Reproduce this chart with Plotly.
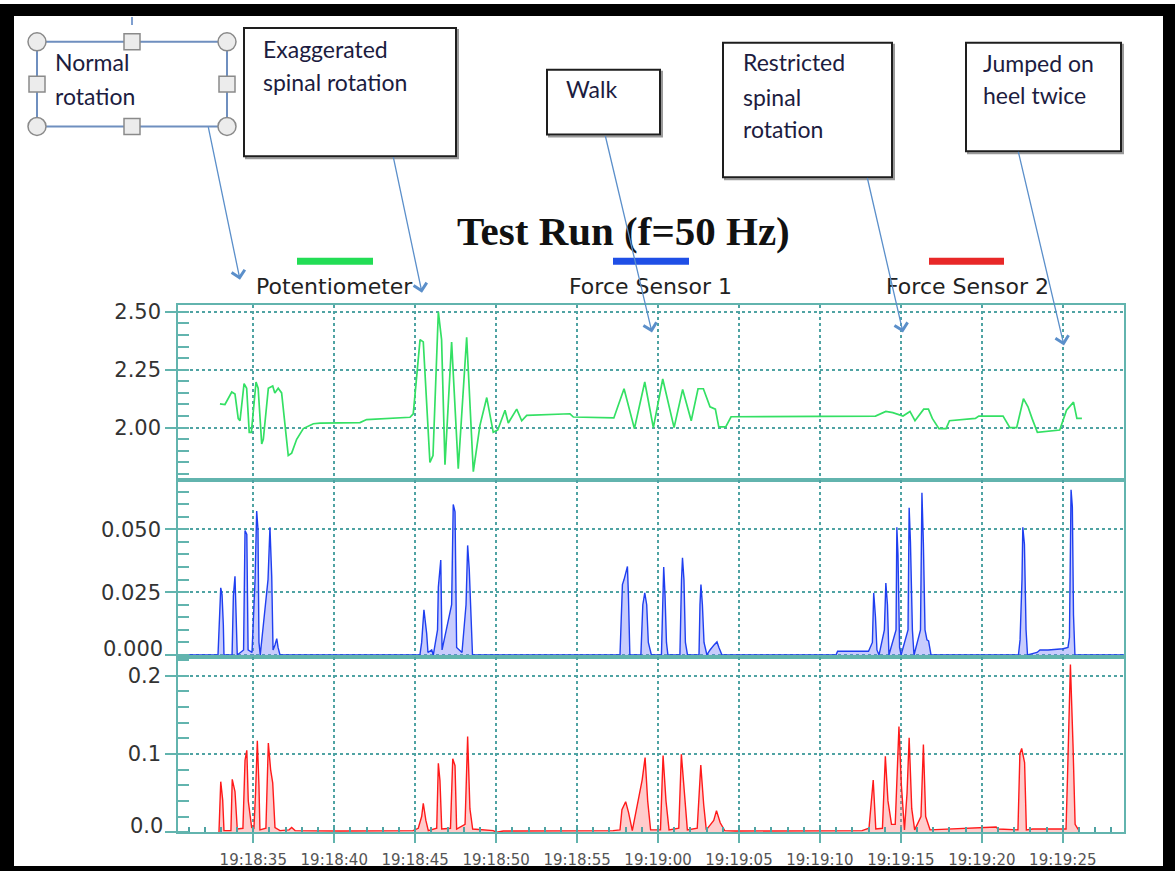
import pandas as pd
import plotly.graph_objects as go

# ---------------- data (seconds after 19:18:30) ----------------
pot_t = [2.94, 3.25, 3.67, 3.87, 4.07, 4.18, 4.43, 4.59, 4.75, 4.88, 5.17, 5.30, 5.52, 5.62,
         5.93, 6.20, 6.33, 6.54, 6.75, 6.96, 7.16, 7.37, 7.68, 8.09, 8.71, 9.12, 9.94, 11.59,
         12.0, 14.68, 14.88, 15.09, 15.30, 15.50, 15.91, 16.10, 16.43, 16.63, 16.84, 17.25,
         17.66, 18.18, 18.59, 19.00, 19.42, 19.82, 20.10, 20.55, 20.75, 21.27, 21.58, 21.89,
         24.56, 24.77, 26.41, 27.27, 27.90, 28.54, 29.18, 29.71, 30.29, 30.99, 31.52, 32.05,
         32.47, 32.80, 33.21, 33.54, 33.75, 34.18, 34.51, 43.43, 44.07, 44.50, 45.13, 45.56,
         45.87, 46.41, 46.70, 46.94, 47.35, 47.79, 48.00, 49.60, 49.81, 51.31, 51.73, 52.15,
         52.57, 52.85, 53.10, 53.43, 54.81, 55.23, 55.66, 55.87, 56.18]
pot_v = [2.103, 2.100, 2.154, 2.145, 2.039, 2.030, 2.190, 2.170, 1.980, 1.980, 2.197, 2.170,
         1.930, 1.950, 2.170, 2.180, 2.150, 2.170, 2.150, 1.996, 1.880, 1.890, 1.950, 1.996,
         2.017, 2.020, 2.020, 2.022, 2.035, 2.045, 2.060, 2.210, 2.380, 2.370, 1.850, 1.880,
         2.500, 2.380, 1.840, 2.370, 1.823, 2.390, 1.810, 2.010, 2.130, 1.980, 1.990, 2.075,
         2.020, 2.080, 2.030, 2.053, 2.060, 2.046, 2.045, 2.042, 2.168, 1.996, 2.197, 2.000,
         2.210, 2.000, 2.165, 2.030, 2.168, 2.168, 2.090, 2.080, 2.003, 2.003, 2.047, 2.050,
         2.070, 2.065, 2.050, 2.070, 2.030, 2.080, 2.080, 2.040, 1.996, 1.996, 2.030, 2.040,
         2.050, 2.050, 2.000, 2.000, 2.125, 2.090, 2.040, 1.980, 1.990, 2.075, 2.110, 2.040,
         2.040]

fs1_t = [0.35, 2.82, 2.99, 3.07, 3.15, 3.19, 3.69, 3.77, 3.87, 3.93, 4.01, 4.40, 4.49, 4.60,
         4.68, 4.92, 5.11, 5.21, 5.29, 5.35, 5.43, 5.91, 6.03, 6.14, 6.22, 6.34, 6.45, 6.53,
         6.65,
         15.29, 15.40, 15.54, 15.71, 15.79, 16.02, 16.12, 16.38, 16.43, 16.58, 16.66, 17.25,
         17.35, 17.46, 17.56, 17.89, 18.14, 18.24, 18.34, 18.49, 18.54,
         27.65, 27.71, 27.80, 27.90, 28.11, 28.17, 28.26, 28.94, 29.06, 29.18, 29.30, 29.40,
         29.50, 29.59, 30.21, 30.28, 30.35, 30.43, 30.52, 30.61, 31.35, 31.45, 31.51, 31.60,
         31.69, 31.82, 32.53, 32.59, 32.65, 32.74, 32.84, 33.02, 33.21, 33.46, 33.64, 33.76,
         33.95,
         40.99, 41.09, 43.00, 43.24, 43.32, 43.43, 43.52, 43.65, 43.98, 44.07, 44.17, 44.26,
         44.70, 44.75, 44.82, 44.92, 45.01, 45.44, 45.51, 45.59, 45.71, 45.81, 46.21, 46.30,
         46.39, 46.49, 46.61, 46.71, 46.86,
         52.26, 52.36, 52.48, 52.53, 52.63, 52.73, 52.82, 53.41, 53.59, 54.09, 55.02, 55.32,
         55.41, 55.51, 55.59, 55.66, 55.75, 58.78]
fs1_v = [0.0, 0.0, 0.0267, 0.024, 0.012, 0.0, 0.0, 0.0236, 0.0313, 0.012, 0.0, 0.002, 0.0495,
         0.048, 0.002, 0.001, 0.030, 0.0573, 0.050, 0.005, 0.0, 0.030, 0.0508, 0.031, 0.002,
         0.004, 0.0065, 0.003, 0.0,
         0.0, 0.005, 0.018, 0.0085, 0.001, 0.002, 0.0, 0.010, 0.027, 0.0378, 0.002, 0.020,
         0.0599, 0.057, 0.003, 0.001, 0.020, 0.0436, 0.034, 0.004, 0.0,
         0.0, 0.010, 0.028, 0.030, 0.0352, 0.024, 0.0, 0.0, 0.020, 0.0247, 0.020, 0.005,
         0.002, 0.0, 0.0, 0.025, 0.035, 0.024, 0.005, 0.0, 0.0, 0.030, 0.0387, 0.030,
         0.005, 0.0, 0.0, 0.020, 0.028, 0.020, 0.005, 0.0, 0.002, 0.004, 0.0052, 0.003,
         0.0,
         0.0, 0.0015, 0.0015, 0.005, 0.0247, 0.015, 0.002, 0.0, 0.010, 0.0286, 0.020, 0.0,
         0.010, 0.0508, 0.040, 0.003, 0.0, 0.010, 0.0586, 0.045, 0.010, 0.0, 0.010, 0.0645,
         0.044, 0.010, 0.006, 0.0056, 0.0,
         0.0, 0.006, 0.030, 0.0508, 0.044, 0.010, 0.0, 0.001, 0.002, 0.002, 0.0025, 0.003,
         0.007, 0.0657, 0.059, 0.016, 0.0, 0.0]

fs2_t = [2.88, 2.99, 3.11, 3.19, 3.62, 3.70, 3.87, 4.01, 4.36, 4.49, 4.60, 4.69, 4.90, 5.04,
         5.14, 5.25, 5.35, 5.41, 5.78, 5.93, 6.07, 6.20, 6.34, 6.65, 7.21, 7.37, 7.58, 10.36,
         14.86,
         15.19, 15.40, 15.50, 15.66, 15.81, 16.33, 16.43, 16.53, 16.64, 17.18, 17.32, 17.46,
         17.56, 18.08, 18.24, 18.38, 18.55, 19.82, 20.03, 20.44, 23.94, 27.22,
         27.65, 27.77, 28.00, 28.18, 28.41, 29.02, 29.20, 29.36, 29.54, 30.15, 30.31, 30.49,
         30.68, 31.28, 31.44, 31.62, 31.81, 32.42, 32.64, 32.82, 32.98, 33.44, 33.61, 33.84,
         34.12, 34.80, 39.55, 42.60,
         43.03, 43.18, 43.29, 43.45, 43.86, 44.04, 44.20, 44.42, 44.65, 44.88, 45.03, 45.22,
         45.38, 45.51, 45.67, 45.85, 46.24, 46.39, 46.53, 46.80, 48.16, 50.88, 51.00, 52.23,
         52.35, 52.46, 52.64, 52.75, 53.14, 55.20, 55.29, 55.47, 55.63, 55.76, 55.97]
fs2_v = [0.0, 0.0646, 0.041, 0.002, 0.002, 0.0676, 0.052, 0.004, 0.005, 0.092, 0.1047, 0.040,
         0.006, 0.005, 0.050, 0.117, 0.060, 0.003, 0.005, 0.114, 0.080, 0.063, 0.006, 0.002,
         0.003, 0.006, 0.002, 0.0015, 0.002,
         0.005, 0.020, 0.037, 0.015, 0.002, 0.005, 0.088, 0.066, 0.004, 0.005, 0.094, 0.085,
         0.004, 0.010, 0.1224, 0.030, 0.004, 0.002, 0.0, 0.0015, 0.0015, 0.002,
         0.003, 0.0287, 0.039, 0.025, 0.002, 0.067, 0.0954, 0.040, 0.003, 0.003, 0.098, 0.040,
         0.003, 0.005, 0.0996, 0.050, 0.003, 0.005, 0.0857, 0.035, 0.003, 0.015, 0.0275, 0.012,
         0.002, 0.0015, 0.0015, 0.002,
         0.005, 0.0456, 0.0667, 0.004, 0.005, 0.097, 0.040, 0.010, 0.010, 0.135, 0.060, 0.003,
         0.050, 0.1207, 0.030, 0.003, 0.020, 0.112, 0.020, 0.003, 0.004, 0.0067, 0.004, 0.003,
         0.1005, 0.107, 0.089, 0.003, 0.004, 0.004, 0.071, 0.2144, 0.112, 0.010, 0.003]

series_names = ["Potentiometer", "Force Sensor 1", "Force Sensor 2"]
title_text = "Test Run (f=50 Hz)"
start_time = "2000-01-01 19:18:30"
x_range_s = [0.35, 58.78]
pot_ticks = [2.00, 2.25, 2.50]
fs1_ticks = [0.000, 0.025, 0.050]
fs2_ticks = [0.0, 0.1, 0.2]
callouts = [["Normal", "rotation"], ["Exaggerated", "spinal rotation"], ["Walk"],
            ["Restricted", "spinal", "rotation"], ["Jumped on", "heel twice"]]

# ---------------- helpers ----------------
W, H = 1175, 871
base = pd.Timestamp(start_time)


def tt(sec):
    return base + pd.to_timedelta(pd.Series(sec), unit="s")


def px(x):
    return x / W


def py(y):
    return 1 - y / H


TEAL = "#62b4ae"
GRID = "#4fa3a3"
GREEN = "#34e064"
BLUE = "#1f3ff0"
RED = "#ff1a1a"
YFONT = dict(family="DejaVu Sans", size=21, color="#333333")

fig = go.Figure()
fig.add_trace(go.Scatter(x=tt(pot_t), y=pot_v, mode="lines", name=series_names[0],
                         line=dict(color=GREEN, width=1.7), xaxis="x", yaxis="y",
                         showlegend=False))
fig.add_trace(go.Scatter(x=tt(fs1_t), y=fs1_v, mode="lines", name=series_names[1],
                         line=dict(color=BLUE, width=1.4), fill="tozeroy",
                         fillcolor="rgba(110,120,250,0.38)", xaxis="x2", yaxis="y2",
                         showlegend=False))
fig.add_trace(go.Scatter(x=tt(fs2_t), y=fs2_v, mode="lines", name=series_names[2],
                         line=dict(color=RED, width=1.4), fill="tozeroy",
                         fillcolor="rgba(255,120,120,0.38)", xaxis="x3", yaxis="y3",
                         showlegend=False))

xdom = [px(178), px(1124)]
ydoms = [[py(478), py(302)], [py(656), py(478)], [py(832), py(656)]]
xr = [base + pd.Timedelta(seconds=x_range_s[0]), base + pd.Timedelta(seconds=x_range_s[1])]

common_x = dict(domain=xdom, range=xr, type="date", tick0=start_time, dtick=5000,
                tickformat="%H:%M:%S", showgrid=True, gridcolor=GRID, griddash="dot",
                gridwidth=1.5, showline=True, mirror=True, linecolor=TEAL, linewidth=1.5,
                zeroline=False)
fig.update_layout(
    xaxis=dict(common_x, anchor="y", showticklabels=False, ticks=""),
    xaxis2=dict(common_x, anchor="y2", showticklabels=False, ticks="", matches="x"),
    xaxis3=dict(common_x, anchor="y3", ticks="outside", ticklen=9, tickcolor=TEAL,
                tickwidth=1.5, matches="x", ticklabelstandoff=4,
                tickfont=dict(family="DejaVu Sans", size=15, color="#555555"),
                minor=dict(dtick=1000, tick0=start_time, ticks="inside", ticklen=5,
                           tickcolor=GRID, tickwidth=1.5, showgrid=False)),
)

ycfg = [
    dict(range=[1.775, 2.531], vals=pot_ticks, fmt="%.2f", mdt=0.05, hide_first=False),
    dict(range=[-0.0008, 0.0697], vals=fs1_ticks, fmt="%.3f", mdt=0.005, hide_first=True),
    dict(range=[0.0, 0.224], vals=fs2_ticks, fmt="%.1f", mdt=0.02, hide_first=True),
]
ann = []
for i, c in enumerate(ycfg):
    key = "yaxis" if i == 0 else f"yaxis{i+1}"
    labels = [c["fmt"] % v for v in c["vals"]]
    shown = [""] + labels[1:] if c["hide_first"] else labels
    fig.layout[key] = dict(
        domain=ydoms[i], range=c["range"], anchor="x" if i == 0 else f"x{i+1}",
        tickmode="array", tickvals=c["vals"], ticktext=shown,
        ticks="outside", ticklen=11, tickcolor=TEAL, tickwidth=1.5,
        showgrid=True, gridcolor=GRID, griddash="dot", gridwidth=1.5,
        showline=True, mirror=True, linecolor=TEAL, linewidth=1.5, zeroline=False,
        tickfont=YFONT,
        minor=dict(tickmode="linear", tick0=0, dtick=c["mdt"], ticks="inside", ticklen=11,
                   tickcolor=TEAL, tickwidth=1.5, showgrid=False),
    )
    if c["hide_first"]:
        # bottom label lifted so it sits above the panel boundary (as in the reference)
        ann.append(dict(text=labels[0], xref="paper", yref="y" if i == 0 else f"y{i+1}",
                        x=px(165), y=c["vals"][0], xanchor="right", yanchor="middle",
                        yshift=6, showarrow=False, font=YFONT))

shapes = []


def rect(x0, y0, x1, y1, **kw):
    shapes.append(dict(type="rect", xref="paper", yref="paper", x0=px(x0), x1=px(x1),
                       y0=py(y1), y1=py(y0), **kw))


# black frame
for (a, b, c, d) in [(0, 0, 1175, 12), (0, 0, 14, 871), (1163, 0, 1175, 871), (0, 866, 1175, 871)]:
    rect(a, b, c, d, fillcolor="black", line=dict(width=0), layer="above")

# callout boxes (with slight shadow)
boxes = [(244, 24, 456, 153), (547, 66, 660, 131), (723, 39, 892, 174), (966, 39, 1121, 148)]
for (a, b, c, d) in boxes:
    rect(a + 2, b + 2, c + 2, d + 2, line=dict(color="#9a9a9a", width=2), layer="above")
    rect(a, b, c, d, line=dict(color="#1e1e1e", width=2), fillcolor="white", layer="above")

# selected text box "Normal rotation"
rect(37, 38, 227, 123, line=dict(color="#6f8fbf", width=2), layer="above")
shapes.append(dict(type="line", xref="paper", yref="paper", x0=px(132), x1=px(132),
                   y0=py(13), y1=py(21), line=dict(color="#7f9fcf", width=2), layer="above"))
for (cx, cy) in [(37, 38), (227, 38), (37, 123), (227, 123)]:
    shapes.append(dict(type="circle", xref="paper", yref="paper", x0=px(cx - 9), x1=px(cx + 9),
                       y0=py(cy + 9), y1=py(cy - 9), fillcolor="#ececec",
                       line=dict(color="#8a8a8a", width=1.5), layer="above"))
for (cx, cy) in [(132, 38), (132, 123), (37, 80.5), (227, 80.5)]:
    rect(cx - 8, cy - 8, cx + 8, cy + 8, fillcolor="#ececec",
         line=dict(color="#8a8a8a", width=1.5), layer="above")

# legend bars
for (a, c, col) in [(297, 373, "#22dd55"), (613, 689, "#1f4fe6"), (929, 1004, "#e82828")]:
    rect(a, 255, c, 262, fillcolor=col, line=dict(width=0))

# text
TXT = "#1c1c40"
text_pos = [[(55, 62), (55, 96)], [(263, 49), (263, 82)], [(566, 89)],
            [(743, 62), (743, 97), (743, 130)], [(983, 63), (983, 95)]]
for lines, poss in zip(callouts, text_pos):
    for s, (x, y) in zip(lines, poss):
        ann.append(dict(text=s, xref="paper", yref="paper", x=px(x - 2), y=py(y - 4),
                        xanchor="left", yanchor="middle", showarrow=False,
                        font=dict(family="Lato", size=23, color=TXT)))

ann.append(dict(text="<b>" + title_text + "</b>", xref="paper", yref="paper", x=px(624),
                y=py(228), xanchor="center", yanchor="middle", showarrow=False,
                font=dict(family="Liberation Serif", size=41, color="#111111")))
for s, x in zip(series_names, [334, 650, 967]):
    ann.append(dict(text=s, xref="paper", yref="paper", x=px(x), y=py(284), xanchor="center",
                    yanchor="middle", showarrow=False,
                    font=dict(family="DejaVu Sans", size=22, color="#222222")))

# arrows (tail -> head, in pixels)
arrows = [((208, 123), (240, 277)), ((393, 153), (422, 290)), ((605, 132), (652, 330)),
          ((867, 174), (903, 330)), ((1018, 148), (1064, 343))]
for (tx, ty), (hx, hy) in arrows:
    ann.append(dict(text="", xref="paper", yref="paper", x=px(hx), y=py(hy), ax=tx - hx,
                    ay=ty - hy, axref="pixel", ayref="pixel", showarrow=True, arrowhead=4,
                    arrowsize=2, arrowwidth=1.3, arrowcolor="#5b8fca", standoff=0))

fig.update_layout(width=W, height=H, margin=dict(l=0, r=0, t=0, b=0), paper_bgcolor="white",
                  plot_bgcolor="white", shapes=shapes, annotations=ann, showlegend=False)
fig.write_html("out.html")
